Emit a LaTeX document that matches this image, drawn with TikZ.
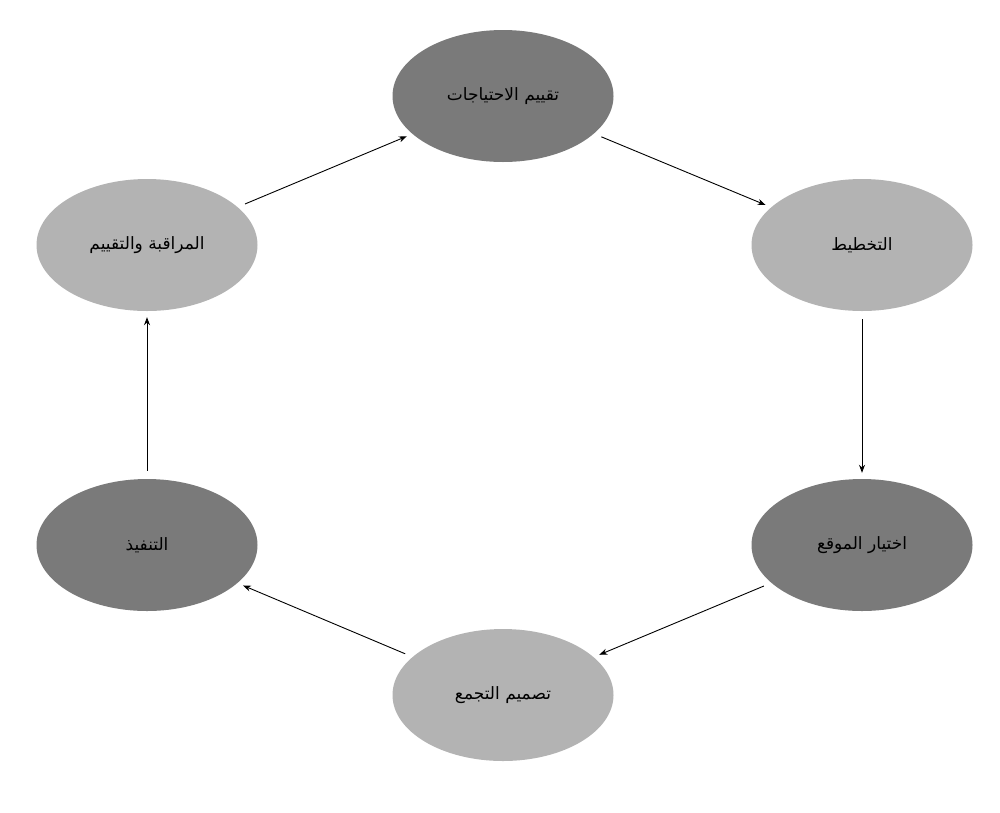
\documentclass[tikz,border=0pt]{standalone}
\usepackage{fontspec}
\TeXXeTstate=1
\newfontfamily\arabicfont[Script=Arabic]{DejaVu Sans}
\usetikzlibrary{arrows.meta,shapes.geometric}
\definecolor{darkg}{HTML}{7A7A7A}
\definecolor{lightg}{HTML}{B3B3B3}
\begin{document}
\begin{tikzpicture}[x=1pt,y=-1pt,
  el/.style={ellipse,minimum width=221pt,minimum height=132pt,inner sep=0pt,font=\arabicfont\fontsize{17}{20}\selectfont},
  dk/.style={el,fill=darkg},
  lt/.style={el,fill=lightg},
  arr/.style={-{Stealth[length=8pt,width=6pt]},line width=0.9pt,shorten <=8pt,shorten >=6pt}]
\useasboundingbox (0,0) rectangle (1000,812);
\node[dk] (a) at (503,96) {\beginR تقييم الاحتياجات\endR};
\node[lt] (b) at (862,245) {\beginR التخطيط\endR};
\node[dk] (c) at (862,545) {\beginR اختيار الموقع\endR};
\node[lt] (d) at (503,695) {\beginR تصميم التجمع\endR};
\node[dk] (e) at (147,545) {\beginR التنفيذ\endR};
\node[lt] (f) at (147,245) {\beginR المراقبة والتقييم\endR};
\draw[arr] (a) -- (b);
\draw[arr] (b) -- (c);
\draw[arr] (c) -- (d);
\draw[arr] (d) -- (e);
\draw[arr] (e) -- (f);
\draw[arr] (f) -- (a);
\end{tikzpicture}
\end{document}
